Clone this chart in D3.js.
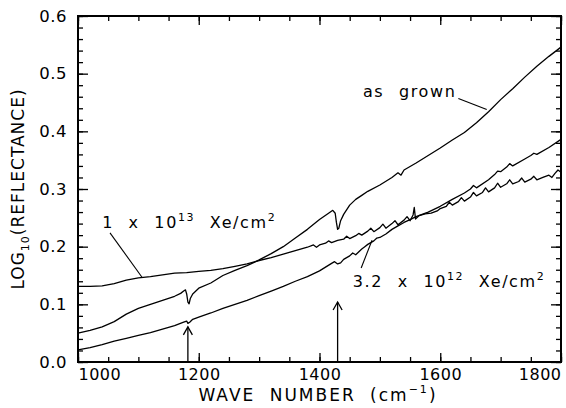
<!DOCTYPE html>
<html>
<head>
<meta charset="utf-8">
<script src="https://cdn.jsdelivr.net/npm/d3@7"></script>
<style>
  body { margin: 0; background: #fff; }
  svg { display: block; font-family: 'DejaVu Sans', sans-serif; }
</style>
</head>
<body>
<svg id="chart" width="566" height="408"></svg>
<script>
// as grown
const agWn = [1000,1020,1040,1060,1080,1100,1120,1140,1160,1170,1175,1178,1180,1182,1184,1186,1190,1200,1220,1240,1260,1280,1300,1320,1340,1360,1380,1400,1415,1422,1426,1428,1430,1432,1435,1440,1450,1460,1470,1480,1500,1520,1530,1535,1540,1560,1580,1600,1620,1640,1660,1680,1700,1720,1740,1760,1780,1800]
const agR = [0.050,0.055,0.061,0.070,0.083,0.093,0.100,0.107,0.114,0.119,0.123,0.125,0.118,0.104,0.101,0.110,0.118,0.128,0.137,0.150,0.159,0.167,0.177,0.188,0.200,0.215,0.230,0.247,0.258,0.263,0.258,0.242,0.230,0.232,0.245,0.256,0.272,0.282,0.289,0.296,0.307,0.320,0.328,0.324,0.333,0.345,0.358,0.371,0.385,0.398,0.415,0.434,0.455,0.474,0.494,0.513,0.530,0.546]

// 1 x 10^13 Xe/cm2
const e13Wn = [1000,1020,1040,1060,1080,1100,1120,1140,1160,1180,1200,1220,1240,1260,1280,1300,1320,1340,1360,1370,1380,1390,1395,1400,1410,1415,1420,1430,1440,1445,1450,1460,1465,1470,1480,1485,1490,1500,1505,1510,1520,1525,1530,1540,1545,1550,1555,1557,1559,1565,1575,1585,1595,1600,1610,1615,1620,1630,1635,1640,1650,1655,1660,1670,1675,1680,1690,1695,1700,1710,1715,1720,1730,1735,1740,1750,1755,1760,1770,1780,1785,1790,1795,1800]
const e13R = [0.131,0.131,0.132,0.136,0.142,0.146,0.148,0.151,0.154,0.155,0.157,0.159,0.162,0.166,0.170,0.176,0.181,0.187,0.193,0.196,0.199,0.203,0.199,0.203,0.206,0.210,0.207,0.211,0.213,0.218,0.214,0.219,0.223,0.220,0.227,0.232,0.226,0.233,0.239,0.232,0.240,0.245,0.238,0.246,0.252,0.245,0.255,0.268,0.248,0.254,0.257,0.258,0.262,0.266,0.270,0.277,0.272,0.278,0.285,0.279,0.286,0.294,0.288,0.294,0.302,0.295,0.302,0.310,0.303,0.309,0.316,0.309,0.313,0.319,0.312,0.317,0.322,0.316,0.320,0.324,0.320,0.327,0.333,0.329]

// 3.2 x 10^12 Xe/cm2
const e12Wn = [1000,1020,1040,1060,1080,1100,1120,1140,1160,1175,1180,1182,1185,1190,1200,1220,1240,1260,1280,1300,1320,1340,1360,1380,1400,1420,1425,1430,1435,1440,1450,1455,1460,1470,1475,1480,1490,1495,1500,1510,1520,1530,1540,1550,1560,1570,1580,1600,1620,1640,1650,1655,1660,1680,1690,1695,1700,1710,1715,1720,1740,1750,1755,1760,1780,1800]
const e12R = [0.021,0.025,0.030,0.036,0.041,0.046,0.051,0.057,0.063,0.069,0.071,0.067,0.069,0.074,0.078,0.085,0.093,0.100,0.107,0.115,0.123,0.131,0.140,0.148,0.158,0.171,0.174,0.170,0.172,0.178,0.184,0.189,0.186,0.196,0.200,0.204,0.210,0.215,0.216,0.222,0.230,0.236,0.242,0.247,0.252,0.256,0.260,0.270,0.282,0.293,0.300,0.306,0.302,0.316,0.325,0.331,0.330,0.338,0.344,0.340,0.352,0.358,0.362,0.360,0.372,0.386]

const xMajor = [1000, 1200, 1400, 1600, 1800]
const yMajor = [0.0, 0.1, 0.2, 0.3, 0.4, 0.5, 0.6]
const arrowWn = [1182, 1430]
const arrowTip = [0.061, 0.104]

const W = 566, H = 408
const M = { left: 78, right: 5, top: 16, bottom: 46 }
const x = d3.scaleLinear().domain([1000, 1800]).range([M.left, W - M.right])
const y = d3.scaleLinear().domain([0, 0.6]).range([H - M.bottom, M.top])

const svg = d3.select('#chart')
const xMinor = d3.range(1000, 1801, 50)
const yMinor = d3.range(0, 0.6001, 0.02)

// ticks (inward on all four sides)
function ticks(axisFn, pos, vals, size, labels) {
  const a = axisFn.tickValues(vals).tickSize(size).tickPadding(7)
  if (!labels) a.tickFormat('')
  const g = svg.append('g').attr('transform', pos).call(a)
  g.select('.domain').remove()
  g.selectAll('.tick line').attr('stroke', '#000').attr('stroke-width', 1.3)
  return g
}
const bY = `translate(0,${y(0)})`, tY = `translate(0,${y(0.6)})`
const lX = `translate(${x(1000)},0)`, rX = `translate(${x(1800)},0)`
ticks(d3.axisBottom(x), bY, xMinor, -5, false)
ticks(d3.axisTop(x), tY, xMinor, -5, false)
ticks(d3.axisLeft(y), lX, yMinor, -5, false)
ticks(d3.axisRight(y), rX, yMinor, -5, false)
const gxb = ticks(d3.axisBottom(x).tickFormat(d3.format('d')), bY, xMajor, -9, true)
ticks(d3.axisTop(x), tY, xMajor, -9, false)
const gyl = ticks(d3.axisLeft(y).tickFormat(d3.format('.1f')), lX, yMajor, -10, true)
ticks(d3.axisRight(y), rX, yMajor, -10, false)

gxb.selectAll('text').attr('font-size', 16).attr('fill', '#000').attr('font-family', 'DejaVu Sans')
  .attr('letter-spacing', 0.5)
  .attr('text-anchor', d => d === 1000 ? 'start' : d === 1800 ? 'end' : 'middle')
gyl.selectAll('text').attr('font-size', 16.5).attr('fill', '#000').attr('font-family', 'DejaVu Sans')
  .attr('letter-spacing', 0.5).attr('dx', -4)

// frame
svg.append('rect')
  .attr('x', x(1000)).attr('y', y(0.6))
  .attr('width', x(1800) - x(1000)).attr('height', y(0) - y(0.6))
  .attr('fill', 'none').attr('stroke', '#000').attr('stroke-width', 2)

// curves
const line = d3.line().x(d => x(d[0])).y(d => y(d[1]))
;[[agWn, agR], [e13Wn, e13R], [e12Wn, e12R]].forEach(([wn, r]) => {
  svg.append('path')
    .datum(wn.map((w, i) => [w, r[i]]))
    .attr('d', line)
    .attr('fill', 'none').attr('stroke', '#000').attr('stroke-width', 1.3)
    .attr('stroke-linejoin', 'round')
})

// arrows
arrowWn.forEach((w, i) => {
  const ax = x(w), ty = y(arrowTip[i])
  svg.append('line').attr('x1', ax).attr('x2', ax).attr('y1', y(0)).attr('y2', ty)
    .attr('stroke', '#000').attr('stroke-width', 1.3)
  svg.append('path').attr('d', `M${ax - 4.5},${ty + 8} L${ax},${ty} L${ax + 4.5},${ty + 8}`)
    .attr('fill', 'none').attr('stroke', '#000').attr('stroke-width', 1.3)
})

// annotation labels and their leader lines
function label(parts, wn, r) {
  const t = svg.append('text').attr('x', x(wn)).attr('y', y(r))
    .attr('font-size', 16).attr('letter-spacing', 1.6).attr('word-spacing', 8).attr('fill', '#000')
  parts.forEach(p => {
    const s = t.append('tspan').text(p[0])
    if (p[1] === 'sup') s.attr('font-size', 11).attr('dy', -7)
    if (p[1] === 'down') s.attr('dy', 7)
  })
}
function leader(a, b) {
  svg.append('line').attr('x1', x(a[0])).attr('y1', y(a[1])).attr('x2', x(b[0])).attr('y2', y(b[1]))
    .attr('stroke', '#000').attr('stroke-width', 1.1)
}
label([['as grown']], 1472, 0.459)
leader([1630, 0.457], [1677, 0.438])
label([['1 x 10'], ['13', 'sup'], [' Xe/cm', 'down'], ['2', 'sup']], 1040, 0.232)
leader([1053, 0.224], [1106, 0.147])
label([['3.2 x 10'], ['12', 'sup'], [' Xe/cm', 'down'], ['2', 'sup']], 1455, 0.130)
leader([1469, 0.163], [1487, 0.211])

// axis titles
const xt = svg.append('text').attr('x', 318).attr('y', 401).attr('text-anchor', 'middle')
  .attr('font-size', 17).attr('letter-spacing', 2).attr('word-spacing', 7).attr('fill', '#000')
xt.append('tspan').text('WAVE NUMBER (cm')
xt.append('tspan').text('−1').attr('font-size', 11).attr('dy', -8)
xt.append('tspan').text(')').attr('dy', 8)

const yt = svg.append('text').attr('transform', `translate(24,${(y(0) + y(0.6)) / 2}) rotate(-90)`)
  .attr('text-anchor', 'middle').attr('font-size', 17).attr('letter-spacing', 1).attr('fill', '#000')
yt.append('tspan').text('LOG')
yt.append('tspan').text('10').attr('font-size', 11).attr('dy', 5)
yt.append('tspan').text('(REFLECTANCE)').attr('dy', -5)
</script>
</body>
</html>
